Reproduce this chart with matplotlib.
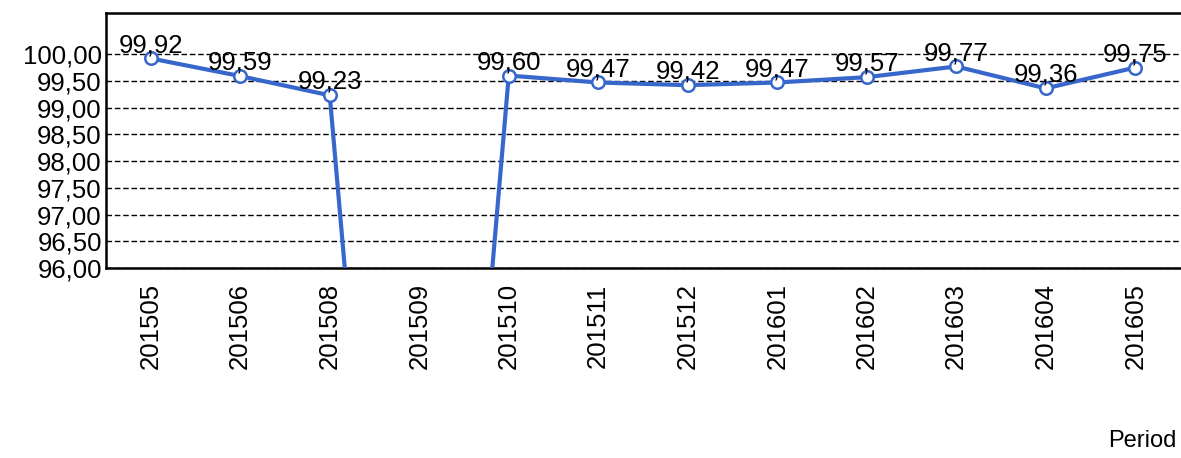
import matplotlib
matplotlib.use("Agg")
import matplotlib.pyplot as plt
from matplotlib.ticker import FixedLocator, FuncFormatter

plt.rcParams['font.family'] = ['Liberation Sans', 'DejaVu Sans']

periods = ["201505", "201506", "201508", "201509", "201510", "201511",
           "201512", "201601", "201602", "201603", "201604", "201605"]
values = [99.92, 99.59, 99.23, 80.0, 99.60, 99.47,
          99.42, 99.47, 99.57, 99.77, 99.36, 99.75]
y_ticks = [96.0, 96.5, 97.0, 97.5, 98.0, 98.5, 99.0, 99.5, 100.0]

BLUE = "#3867cc"

fig = plt.figure(figsize=(11.81, 4.58), dpi=100)
ax = fig.add_axes([106 / 1181, 1 - 268 / 458, 1074 / 1181, 255 / 458])

x = list(range(len(periods)))
ax.plot(x, values, color=BLUE, lw=3, marker="o", markersize=9,
        markerfacecolor="white", markeredgecolor=BLUE, markeredgewidth=1.8,
        zorder=3)

ax.set_xlim(-0.5, len(periods) - 0.5)
ax.set_ylim(96.0, 100.77)
ax.yaxis.set_major_locator(FixedLocator(y_ticks))
ax.yaxis.set_major_formatter(FuncFormatter(lambda v, p: f"{v:.2f}".replace(".", ",")))
ax.set_xticks(x)
ax.set_xticklabels(periods, rotation=90, fontsize=18.5)
ax.tick_params(axis="y", labelsize=18.5, length=0, pad=3)
ax.tick_params(axis="x", length=0, pad=11)

ax.grid(axis="y", color="black", linestyle=(0, (4, 2)), lw=1.0)
ax.set_axisbelow(True)

for s in ["left", "top", "bottom"]:
    ax.spines[s].set_linewidth(1.8)
ax.spines["right"].set_visible(False)

for xi, v in zip(x, values):
    if v >= 96.0:
        ax.annotate(f"{v:.2f}".replace(".", ","), (xi, v), xytext=(0, 1),
                    textcoords="offset points", ha="center", va="bottom",
                    fontsize=18.5, zorder=4)

fig.text(1177 / 1181, 1 - 452 / 458, "Period", ha="right", va="bottom", fontsize=17)

fig.savefig("out.png", dpi=100)
